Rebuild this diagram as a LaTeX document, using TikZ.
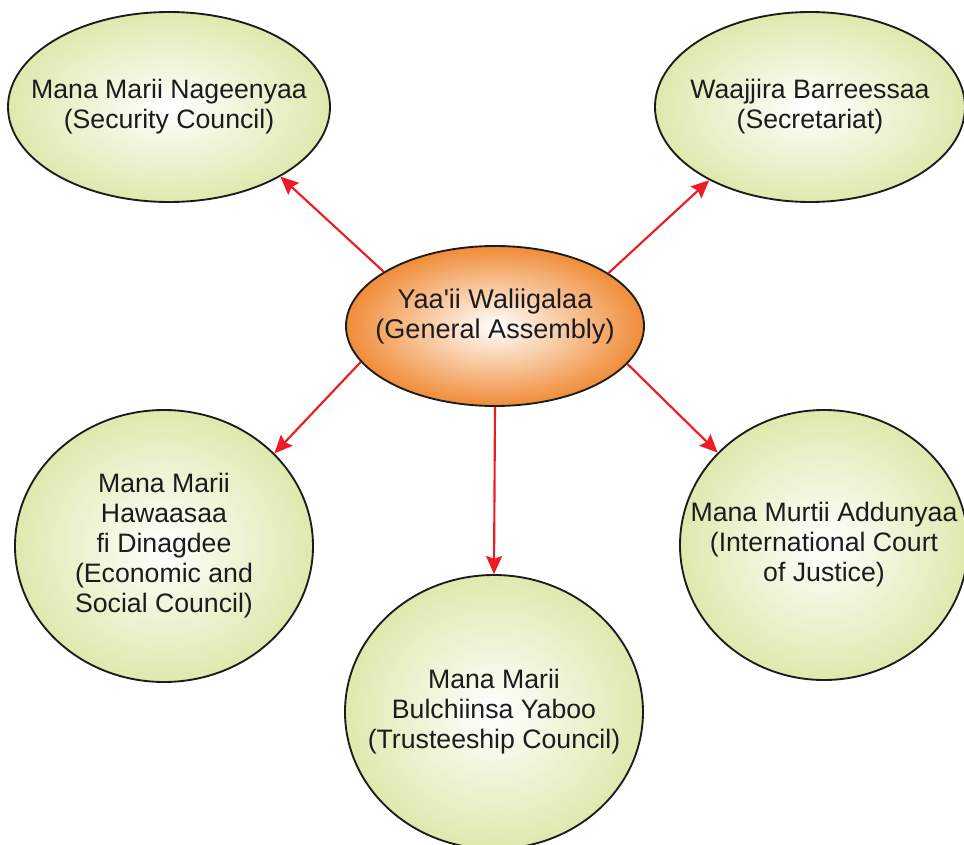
\documentclass[tikz,border=0pt]{standalone}
\usepackage{fontspec}
\setmainfont{Liberation Sans}
\usetikzlibrary{positioning,shapes.geometric,arrows.meta}
\definecolor{leafgreen}{RGB}{222,233,174}
\definecolor{deeporange}{RGB}{240,140,56}
\definecolor{linkred}{RGB}{237,28,36}
\definecolor{inkgray}{RGB}{30,27,28}

\begin{document}
\begin{tikzpicture}[x=0.75pt,y=-0.75pt,>={Stealth[length=13.5pt,width=12pt,inset=2pt]},
	organ/.style={shape=ellipse,draw=inkgray,line width=1.4pt,inner sep=0pt,inner color=white,outer color=leafgreen},
	assembly/.style={organ,outer color=deeporange},
	caption/.style={align=center,text=inkgray,font=\fontsize{20}{22.5}\selectfont},
	link/.style={->,draw=linkred,line width=1.6pt},]
		\useasboundingbox (0,0) rectangle (964,845);
		% create the nodes
		\node (ga) [assembly,minimum width=223.5pt,minimum height=120pt] at (495,326) {};
		\node (sc) [organ,minimum width=241.5pt,minimum height=142.5pt] at (169,107) {};
		\node (sec) [organ,minimum width=232.5pt,minimum height=142.5pt] at (810,107) {};
		\node (eco) [organ,minimum width=223.5pt,minimum height=204pt] at (164,546) {};
		\node (tc) [organ,minimum width=223.5pt,minimum height=205.5pt] at (494,712) {};
		\node (icj) [organ,minimum width=216pt,minimum height=202.5pt] at (824,545) {};
		
		% texts
		\node (gatext) [caption,font=\fontsize{20.3}{22.5}\selectfont,yshift=6.75pt] at (ga) {Yaa\textquotesingle ii Waliigalaa\\(General Assembly)};
		\node (sctext) [caption] at (sc) {Mana Marii Nageenyaa\\(Security Council)};
		\node (sectext) [caption] at (sec) {Waajjira Barreessaa\\(Secretariat)};
		\node (ecotext) [caption] at (eco) {Mana Marii\\Hawaasaa\\fi Dinagdee\\(Economic and\\Social Council)};
		\node (tctext) [caption] at (tc) {Mana Marii\\Bulchiinsa Yaboo\\(Trusteeship Council)};
		\node (icjtext) [caption] at (icj) {Mana Murtii Addunyaa\\(International Court\\of Justice)};
		
		% connect the nodes
		\draw[link] (ga.154.8) to (sc.-32.9);
		\draw[link] (ga.25.4) to (sec.-144.5);
		\draw[link] (ga.195.4) to (eco.40.9);
		\draw[link] (ga.south) to (tc.north);
		\draw[link] (ga.-16.3) to (icj.139.5);
	\end{tikzpicture}
\end{document}
